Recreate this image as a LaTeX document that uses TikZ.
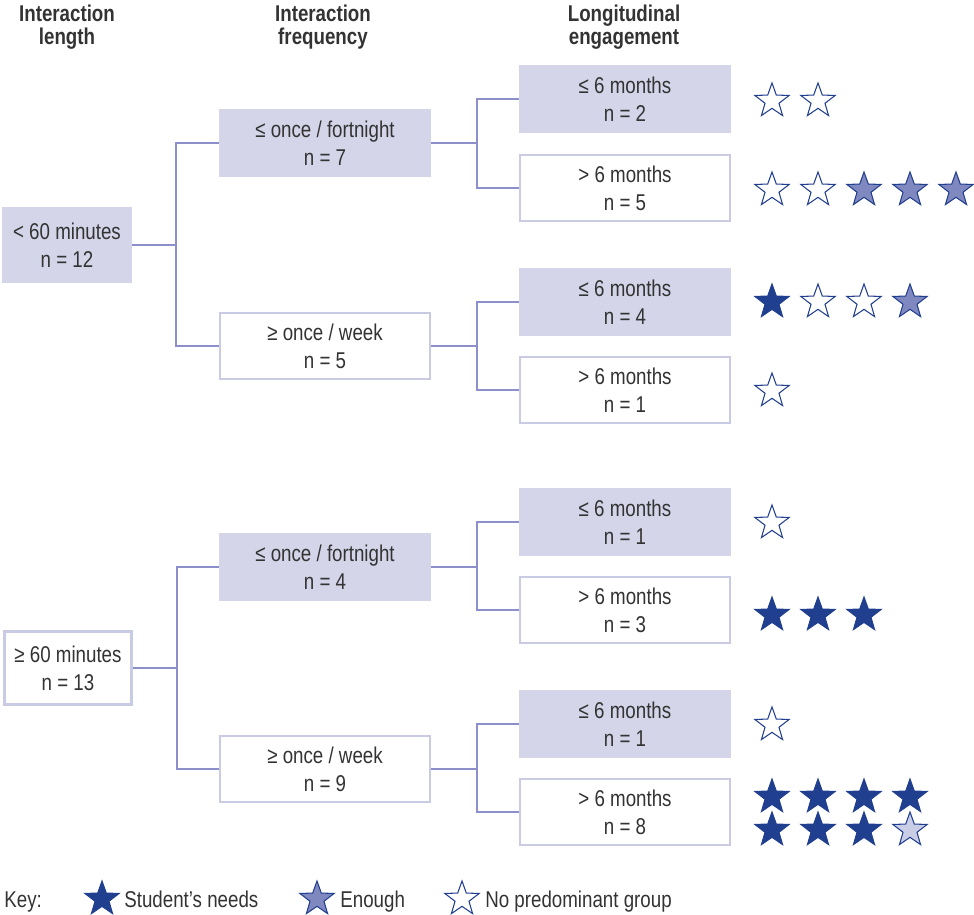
\documentclass[tikz,border=0pt]{standalone}
\usepackage{fontspec}
\setmainfont{Liberation Sans}[FakeStretch=0.82]
\usepackage{tikz}
\usetikzlibrary{positioning,shapes,calc}

\definecolor{boxfill}{HTML}{D4D5E9}
\definecolor{boxedge}{HTML}{C9CBE4}
\definecolor{linkcol}{HTML}{8C8FC9}
\definecolor{stardark}{HTML}{213F8F}
\definecolor{starmid}{HTML}{8088C0}
\definecolor{starlight}{HTML}{C9CDE6}

\begin{document}
\begin{tikzpicture}[
    x=0.02cm, y=-0.02cm,
    every node/.style={align=center, font=\fontsize{13}{16}\selectfont, text=black!80},
    head/.style={font=\bfseries\fontsize{13}{13.5}\selectfont},
    grp/.style={rectangle, line width=1.4pt, draw=boxedge, minimum width=4.2cm, minimum height=1.32cm, inner sep=1pt},
    shaded/.style={grp, fill=boxfill, draw=boxfill},
    plain/.style={grp, fill=white},
    root/.style={minimum width=2.54cm, minimum height=1.46cm},
    conn/.style={draw=linkcol, line width=1.2pt},
    star5/.style={star, star points=5, star point ratio=2.45, minimum size=0.72cm, inner sep=0pt, draw=stardark, line width=0.6pt},
    needs/.style={star5, fill=stardark},
    enough/.style={star5, fill=starmid},
    nogroup/.style={star5, fill=white},
    partly/.style={star5, fill=starlight}
]
\useasboundingbox (0,0) rectangle (974,914);

% column headings
\node[head] (hlen) at (67,27) {Interaction\\length};
\node[head] (hfreq) at (323,27) {Interaction\\frequency};
\node[head] (heng) at (624,27) {Longitudinal\\engagement};

% interaction length
\node[shaded, root] (lenA) at (67,245) {< 60 minutes\\n = 12};
\node[plain, root] (lenB) at (68,668) {≥ 60 minutes\\n = 13};

% interaction frequency
\node[shaded] (freqA1) at (325,143) {≤ once / fortnight\\n = 7};
\node[plain] (freqA2) at (325,346) {≥ once / week\\n = 5};
\node[shaded] (freqB1) at (325,567) {≤ once / fortnight\\n = 4};
\node[plain] (freqB2) at (325,769) {≥ once / week\\n = 9};

% longitudinal engagement
\node[shaded] (engA1) at (625,99) {≤ 6 months\\n = 2};
\node[plain] (engA2) at (625,188) {> 6 months\\n = 5};
\node[shaded] (engA3) at (625,302) {≤ 6 months\\n = 4};
\node[plain] (engA4) at (625,390) {> 6 months\\n = 1};
\node[shaded] (engB1) at (625,522) {≤ 6 months\\n = 1};
\node[plain] (engB2) at (625,610) {> 6 months\\n = 3};
\node[shaded] (engB3) at (625,724) {≤ 6 months\\n = 1};
\node[plain] (engB4) at (625,812) {> 6 months\\n = 8};

% connectors
\foreach \src/\dst in {lenA/freqA1, lenA/freqA2, lenB/freqB1, lenB/freqB2}
    \draw[conn] (\src.east) -- +(44,0) |- (\dst.west);
\foreach \src/\dst in {freqA1/engA1, freqA1/engA2, freqA2/engA3, freqA2/engA4,
                       freqB1/engB1, freqB1/engB2, freqB2/engB3, freqB2/engB4}
    \draw[conn] (\src.east) -- +(46,0) |- (\dst.west);

% stars
\foreach \kind [count=\i] in {nogroup,nogroup}
    \node[\kind] (sA1\i) at ({772+46*(\i-1)},101) {};
\foreach \kind [count=\i] in {nogroup,nogroup,enough,enough,enough}
    \node[\kind] (sA2\i) at ({772+46*(\i-1)},190) {};
\foreach \kind [count=\i] in {needs,nogroup,nogroup,enough}
    \node[\kind] (sA3\i) at ({772+46*(\i-1)},302) {};
\node[nogroup] (sA41) at (772,391) {};
\node[nogroup] (sB11) at (772,523) {};
\foreach \kind [count=\i] in {needs,needs,needs}
    \node[\kind] (sB2\i) at ({772+46*(\i-1)},615) {};
\node[nogroup] (sB31) at (772,725) {};
\foreach \kind [count=\i] in {needs,needs,needs,needs}
    \node[\kind] (sB4\i) at ({772+46*(\i-1)},797) {};
\foreach \kind [count=\i] in {needs,needs,needs,partly}
    \node[\kind] (sB5\i) at ({772+46*(\i-1)},830) {};

% key
\node[anchor=base west, inner sep=0pt] (keylbl) at (4,907) {Key:};
\node[needs] (key1) at (102,899) {};
\node[anchor=base west, inner sep=0pt] (key1t) at (124,907) {Student’s needs};
\node[enough] (key2) at (317,899) {};
\node[anchor=base west, inner sep=0pt] (key2t) at (340,907) {Enough};
\node[nogroup] (key3) at (462,899) {};
\node[anchor=base west, inner sep=0pt] (key3t) at (485,907) {No predominant group};
\end{tikzpicture}
\end{document}
